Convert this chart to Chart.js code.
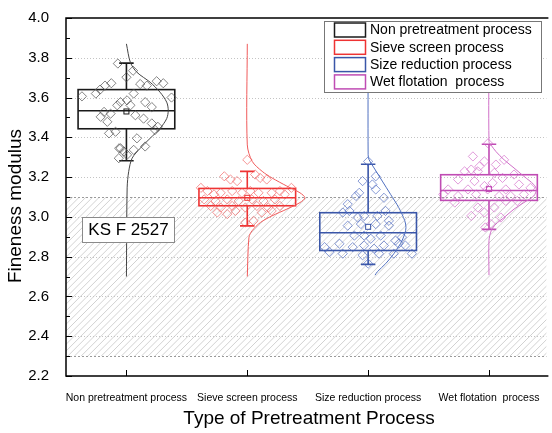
<!DOCTYPE html>
<html>
<head>
<meta charset="utf-8">
<script src="https://cdn.jsdelivr.net/npm/chart.js@4.4.1/dist/chart.umd.min.js"></script>
<style>
  html, body { margin: 0; padding: 0; background: #fff; }
</style>
</head>
<body>
<canvas id="chart" width="552" height="433"></canvas>
<script>
// categories and tick labels
var categories = ['Non pretreatment process', 'Sieve screen process', 'Size reduction process', 'Wet flotation  process'];
var yTickLabels = ['2.2', '2.4', '2.6', '2.8', '3.0', '3.2', '3.4', '3.6', '3.8', '4.0'];

// box statistics
var boxQ1 = [3.443, 3.056, 2.831, 3.083];
var boxMedian = [3.534, 3.096, 2.920, 3.133];
var boxQ3 = [3.640, 3.143, 3.021, 3.212];
var whiskerLow = [3.282, 2.955, 2.761, 2.937];
var whiskerHigh = [3.773, 3.229, 3.265, 3.365];
var boxMean = [3.530, 3.096, 2.950, 3.140];

// KS F 2527 limits
var specLimits = [2.3, 3.1];

// raw data points (value) and their horizontal jitter (category units)
var nonValues = [3.771, 3.735, 3.702, 3.682, 3.672, 3.672, 3.66, 3.64, 3.668, 3.66, 3.62, 3.62, 3.586, 3.577, 3.561, 3.561, 3.528, 3.519, 3.503, 3.478, 3.577, 3.552, 3.511, 3.494, 3.47, 3.42, 3.428, 3.395, 3.437, 3.354, 3.337, 3.329, 3.345, 3.295, 3.312, 3.606, 3.60, 3.453, 3.345];
var nonJitter = [-.071, .055, 0, .25, .305, -.125, -.177, -.218, .114, .169, -.253, .06, .005, -.049, -.076, .033, -.185, -.131, -.213, -.158, .155, .21, .074, .142, .21, -.144, -.09, .087, .237, .155, .06, -.022, -.049, -.063, .005, -.368, .373, .26, -.06];

var sieveValues = [3.287, 3.204, 3.188, 3.18, 3.213, 3.196, 3.188, 3.146, 3.146, 3.13, 3.113, 3.121, 3.13, 3.121, 3.13, 3.121, 3.121, 3.13, 3.113, 3.088, 3.08, 3.088, 3.08, 3.088, 3.08, 3.088, 3.055, 3.047, 3.055, 3.047, 3.055, 3.047, 3.055, 3.022, 3.014, 3.03, 3.022, 3.03, 2.98, 2.972];
var sieveJitter = [0, -.19, -.139, -.084, .065, .106, .161, .365, -.384, -.33, -.275, -.22, -.125, -.044, .025, .093, .202, .27, .31, -.357, -.262, -.166, -.071, .038, .134, .229, -.303, -.22, -.125, -.016, .079, .174, .27, -.248, -.166, -.098, .12, .202, .052, -.016];

var sizeValues = [3.279, 3.18, 3.204, 3.163, 3.138, 3.121, 3.096, 3.064, 3.105, 3.022, 3.03, 2.997, 3.005, 3.03, 3.005, 2.98, 2.956, 2.964, 2.964, 2.956, 2.906, 2.906, 2.89, 2.906, 2.881, 2.848, 2.823, 2.865, 2.815, 2.848, 2.856, 2.84, 2.856, 2.865, 2.856, 2.815, 2.807, 2.815, 2.815, 2.765, 2.898];
var sizeJitter = [0, -.046, .063, .035, .063, -.074, .131, -.169, -.101, -.21, -.155, -.087, -.033, .144, .076, .172, -.169, -.06, .063, .172, -.114, -.033, .022, .104, .226, -.36, -.319, -.237, -.21, -.128, -.033, .049, .131, .253, .308, .362, -.046, .09, .212, 0, .28];

var wetValues = [3.37, 3.304, 3.279, 3.254, 3.287, 3.263, 3.229, 3.238, 3.229, 3.221, 3.196, 3.213, 3.188, 3.18, 3.155, 3.171, 3.163, 3.138, 3.138, 3.138, 3.138, 3.146, 3.113, 3.105, 3.113, 3.105, 3.105, 3.113, 3.072, 3.08, 3.08, 3.047, 3.047, 3.005, 3.022, 2.997, 2.964, 2.947];
var wetJitter = [-.008, -.133, -.038, -.079, .125, .057, -.202, -.147, -.092, .044, .112, .207, -.256, -.12, -.038, .03, .248, -.338, -.174, -.011, .139, .343, -.379, -.256, -.106, .084, .18, .289, -.283, .139, .234, -.092, .044, -.147, -.038, .098, .016, -.03];

// distribution curves: value and width (category units)
var nonCurveValues = [3.87, 3.776, 3.727, 3.677, 3.627, 3.577, 3.536, 3.494, 3.445, 3.395, 3.345, 3.295, 3.229, 3.146, 2.70];
var nonCurveWidth = [0, .033, .087, .196, .278, .333, .346, .333, .278, .196, .114, .047, .019, .006, 0];
var sieveCurveValues = [3.87, 3.362, 3.279, 3.229, 3.196, 3.155, 3.121, 3.096, 3.072, 3.039, 3.005, 2.972, 2.931, 2.898, 2.70];
var sieveCurveWidth = [0, 0, .041, .123, .204, .327, .436, .477, .436, .327, .204, .109, .041, .014, 0];
var sizeCurveValues = [3.87, 3.312, 3.287, 3.246, 3.18, 3.113, 3.047, 2.981, 2.947, 2.914, 2.865, 2.815, 2.765, 2.724, 2.707];
var sizeCurveWidth = [0, 0, .008, .049, .117, .186, .253, .303, .313, .303, .267, .213, .145, .076, .057];
var wetCurveValues = [3.87, 3.378, 3.362, 3.329, 3.287, 3.246, 3.204, 3.163, 3.138, 3.105, 3.072, 3.039, 2.997, 2.964, 2.931, 2.881, 2.707];
var wetCurveWidth = [0, 0, .016, .057, .125, .207, .289, .370, .392, .370, .289, .207, .125, .057, .019, 0, 0];

var boxColors = ['#1a1a1a', '#ee3333', '#3a56a8', '#c04cb4'];
var pointColors = ['rgba(80,80,80,0.7)', 'rgba(240,80,80,0.6)', 'rgba(70,100,190,0.65)', 'rgba(205,90,195,0.6)'];
var curveColors = ['#444444', '#f05a5a', '#5070c0', '#d070c8'];

function toPoints(pos, values, jitter) {
  var out = [];
  for (var i = 0; i < Math.min(values.length, jitter.length); i++) out.push({ x: pos + jitter[i], y: values[i] });
  return out;
}

var pointSets = [toPoints(1, nonValues, nonJitter), toPoints(2, sieveValues, sieveJitter), toPoints(3, sizeValues, sizeJitter), toPoints(4, wetValues, wetJitter)];
var curveSets = [toPoints(1, nonCurveValues, nonCurveWidth), toPoints(2, sieveCurveValues, sieveCurveWidth), toPoints(3, sizeCurveValues, sizeCurveWidth), toPoints(4, wetCurveValues, wetCurveWidth)];

var datasets = [];
curveSets.forEach(function(pts, i) {
  datasets.push({ data: pts, showLine: true, borderColor: curveColors[i], borderWidth: 1, pointRadius: 0, tension: 0.3, fill: false });
});
pointSets.forEach(function(pts, i) {
  datasets.push({ data: pts, showLine: false, pointStyle: 'rectRot', pointRadius: 4.6, borderWidth: 1, borderColor: pointColors[i], backgroundColor: 'rgba(0,0,0,0)' });
});

var FONT = '"Liberation Sans", Arial, sans-serif';

var decor = {
  id: 'decor',
  beforeDatasetsDraw: function(chart) {
    var ctx = chart.ctx, a = chart.chartArea, x = chart.scales.x, y = chart.scales.y;
    ctx.save();
    // hatched spec band
    var yHi = y.getPixelForValue(specLimits[1]), yLo = y.getPixelForValue(specLimits[0]);
    ctx.beginPath();
    ctx.rect(a.left, yHi, a.right - a.left, yLo - yHi);
    ctx.clip();
    ctx.strokeStyle = '#d2d2d2';
    ctx.lineWidth = 1;
    ctx.beginPath();
    var h = yLo - yHi;
    for (var sx = a.left - h; sx < a.right + 2; sx += 6.7) {
      ctx.moveTo(sx, yLo);
      ctx.lineTo(sx + h, yHi);
    }
    ctx.stroke();
    ctx.restore();

    ctx.save();
    // dotted grid
    ctx.strokeStyle = '#c4c4c4';
    ctx.lineWidth = 1;
    ctx.setLineDash([1, 2]);
    yTickLabels.forEach(function(t) {
      var v = parseFloat(t);
      if (v <= 2.21 || v >= 3.99) return;
      var py = Math.round(y.getPixelForValue(v)) + 0.5;
      ctx.beginPath(); ctx.moveTo(a.left, py); ctx.lineTo(a.right, py); ctx.stroke();
    });
    // spec limit lines
    ctx.strokeStyle = '#9a9a9a';
    ctx.setLineDash([2, 2]);
    specLimits.forEach(function(v) {
      var py = Math.round(y.getPixelForValue(v)) + 0.5;
      ctx.beginPath(); ctx.moveTo(a.left, py); ctx.lineTo(a.right, py); ctx.stroke();
    });
    ctx.setLineDash([]);

    // boxes
    var unit = x.getPixelForValue(2) - x.getPixelForValue(1);
    for (var i = 0; i < categories.length; i++) {
      var cx = x.getPixelForValue(i + 1);
      var half = unit * 0.4, cap = unit * 0.06;
      var pq1 = y.getPixelForValue(boxQ1[i]), pq3 = y.getPixelForValue(boxQ3[i]);
      var pm = y.getPixelForValue(boxMedian[i]);
      var plo = y.getPixelForValue(whiskerLow[i]), phi = y.getPixelForValue(whiskerHigh[i]);
      ctx.strokeStyle = boxColors[i];
      ctx.lineWidth = 1.6;
      ctx.strokeRect(cx - half, pq3, half * 2, pq1 - pq3);
      ctx.beginPath();
      ctx.moveTo(cx - half, pm); ctx.lineTo(cx + half, pm);
      ctx.moveTo(cx, pq3); ctx.lineTo(cx, phi);
      ctx.moveTo(cx, pq1); ctx.lineTo(cx, plo);
      ctx.moveTo(cx - cap, phi); ctx.lineTo(cx + cap, phi);
      ctx.moveTo(cx - cap, plo); ctx.lineTo(cx + cap, plo);
      ctx.stroke();
      var pmean = y.getPixelForValue(boxMean[i]);
      ctx.lineWidth = 1;
      ctx.strokeRect(cx - 2.5, pmean - 2.5, 5, 5);
    }
    ctx.restore();
  },
  afterDatasetsDraw: function(chart) {
    var ctx = chart.ctx, a = chart.chartArea, x = chart.scales.x, y = chart.scales.y;
    ctx.save();
    // frame: left, bottom, top
    ctx.strokeStyle = '#000';
    ctx.lineWidth = 1.5;
    ctx.beginPath();
    ctx.moveTo(a.right + 2, a.top); ctx.lineTo(a.left, a.top); ctx.lineTo(a.left, a.bottom); ctx.lineTo(a.right + 2, a.bottom);
    ctx.stroke();
    // inward ticks
    ctx.lineWidth = 1;
    ctx.beginPath();
    for (var v = 2.2; v < 4.05; v += 0.1) {
      var py = Math.round(y.getPixelForValue(v)) + 0.5;
      var major = Math.abs(Math.round(v * 10) % 2) === 0;
      ctx.moveTo(a.left, py); ctx.lineTo(a.left + (major ? 6 : 4), py);
    }
    for (var i = 1; i <= categories.length; i++) {
      var px = Math.round(x.getPixelForValue(i)) + 0.5;
      ctx.moveTo(px, a.bottom); ctx.lineTo(px, a.bottom - 6);
    }
    ctx.stroke();

    // KS F 2527 label
    ctx.fillStyle = '#fff';
    ctx.fillRect(82, 217, 92, 25);
    ctx.strokeStyle = '#8a8a8a';
    ctx.strokeRect(82.5, 217.5, 92, 25);
    ctx.fillStyle = '#000';
    ctx.font = '17px ' + FONT;
    ctx.textAlign = 'center';
    ctx.textBaseline = 'middle';
    ctx.fillText('KS F 2527', 128.5, 230.5);

    // legend
    ctx.fillStyle = '#fff';
    ctx.fillRect(324, 21, 218, 72);
    ctx.strokeStyle = '#777';
    ctx.lineWidth = 1;
    ctx.strokeRect(324.5, 21.5, 217, 71);
    ctx.font = '14px ' + FONT;
    ctx.textAlign = 'left';
    for (var k = 0; k < categories.length; k++) {
      var ry = 30 + k * 17.3;
      ctx.strokeStyle = boxColors[k];
      ctx.lineWidth = 1.5;
      ctx.strokeRect(334.5, ry - 7, 31, 14);
      ctx.fillStyle = '#000';
      ctx.fillText(categories[k], 370, ry + 0.5);
    }

    // axis titles
    ctx.font = '19px ' + FONT;
    ctx.textAlign = 'center';
    ctx.fillText('Type of Pretreatment Process', (a.left + 552) / 2, 419);
    ctx.translate(16, (a.top + a.bottom) / 2 + 9);
    ctx.rotate(-Math.PI / 2);
    ctx.fillText('Fineness modulus', 0, 0);
    ctx.restore();
  }
};

new Chart(document.getElementById('chart'), {
  type: 'scatter',
  data: { datasets: datasets },
  options: {
    responsive: false,
    animation: false,
    layout: { padding: { top: 15, right: 0, left: 0, bottom: 0 } },
    plugins: { legend: { display: false }, tooltip: { enabled: false } },
    scales: {
      x: {
        type: 'linear',
        min: 0.5,
        max: 4.475,
        grid: { display: false },
        border: { display: false },
        afterFit: function(s) { s.height = 57; },
        afterBuildTicks: function(s) { s.ticks = categories.map(function(c, i) { return { value: i + 1 }; }); },
        ticks: {
          autoSkip: false, maxRotation: 0, minRotation: 0, padding: 8,
          color: '#000',
          font: { family: FONT, size: 10.5 },
          callback: function(v) { return categories[Math.round(v) - 1] || ''; }
        }
      },
      y: {
        min: 2.2,
        max: 4.0,
        grid: { display: false },
        border: { display: false },
        afterFit: function(s) { s.width = 66; },
        afterBuildTicks: function(s) { s.ticks = yTickLabels.map(function(t) { return { value: parseFloat(t) }; }); },
        ticks: {
          padding: 9,
          color: '#000',
          font: { family: FONT, size: 15 },
          callback: function(v) { return Number(v).toFixed(1); }
        }
      }
    }
  },
  plugins: [decor]
});
</script>
</body>
</html>
